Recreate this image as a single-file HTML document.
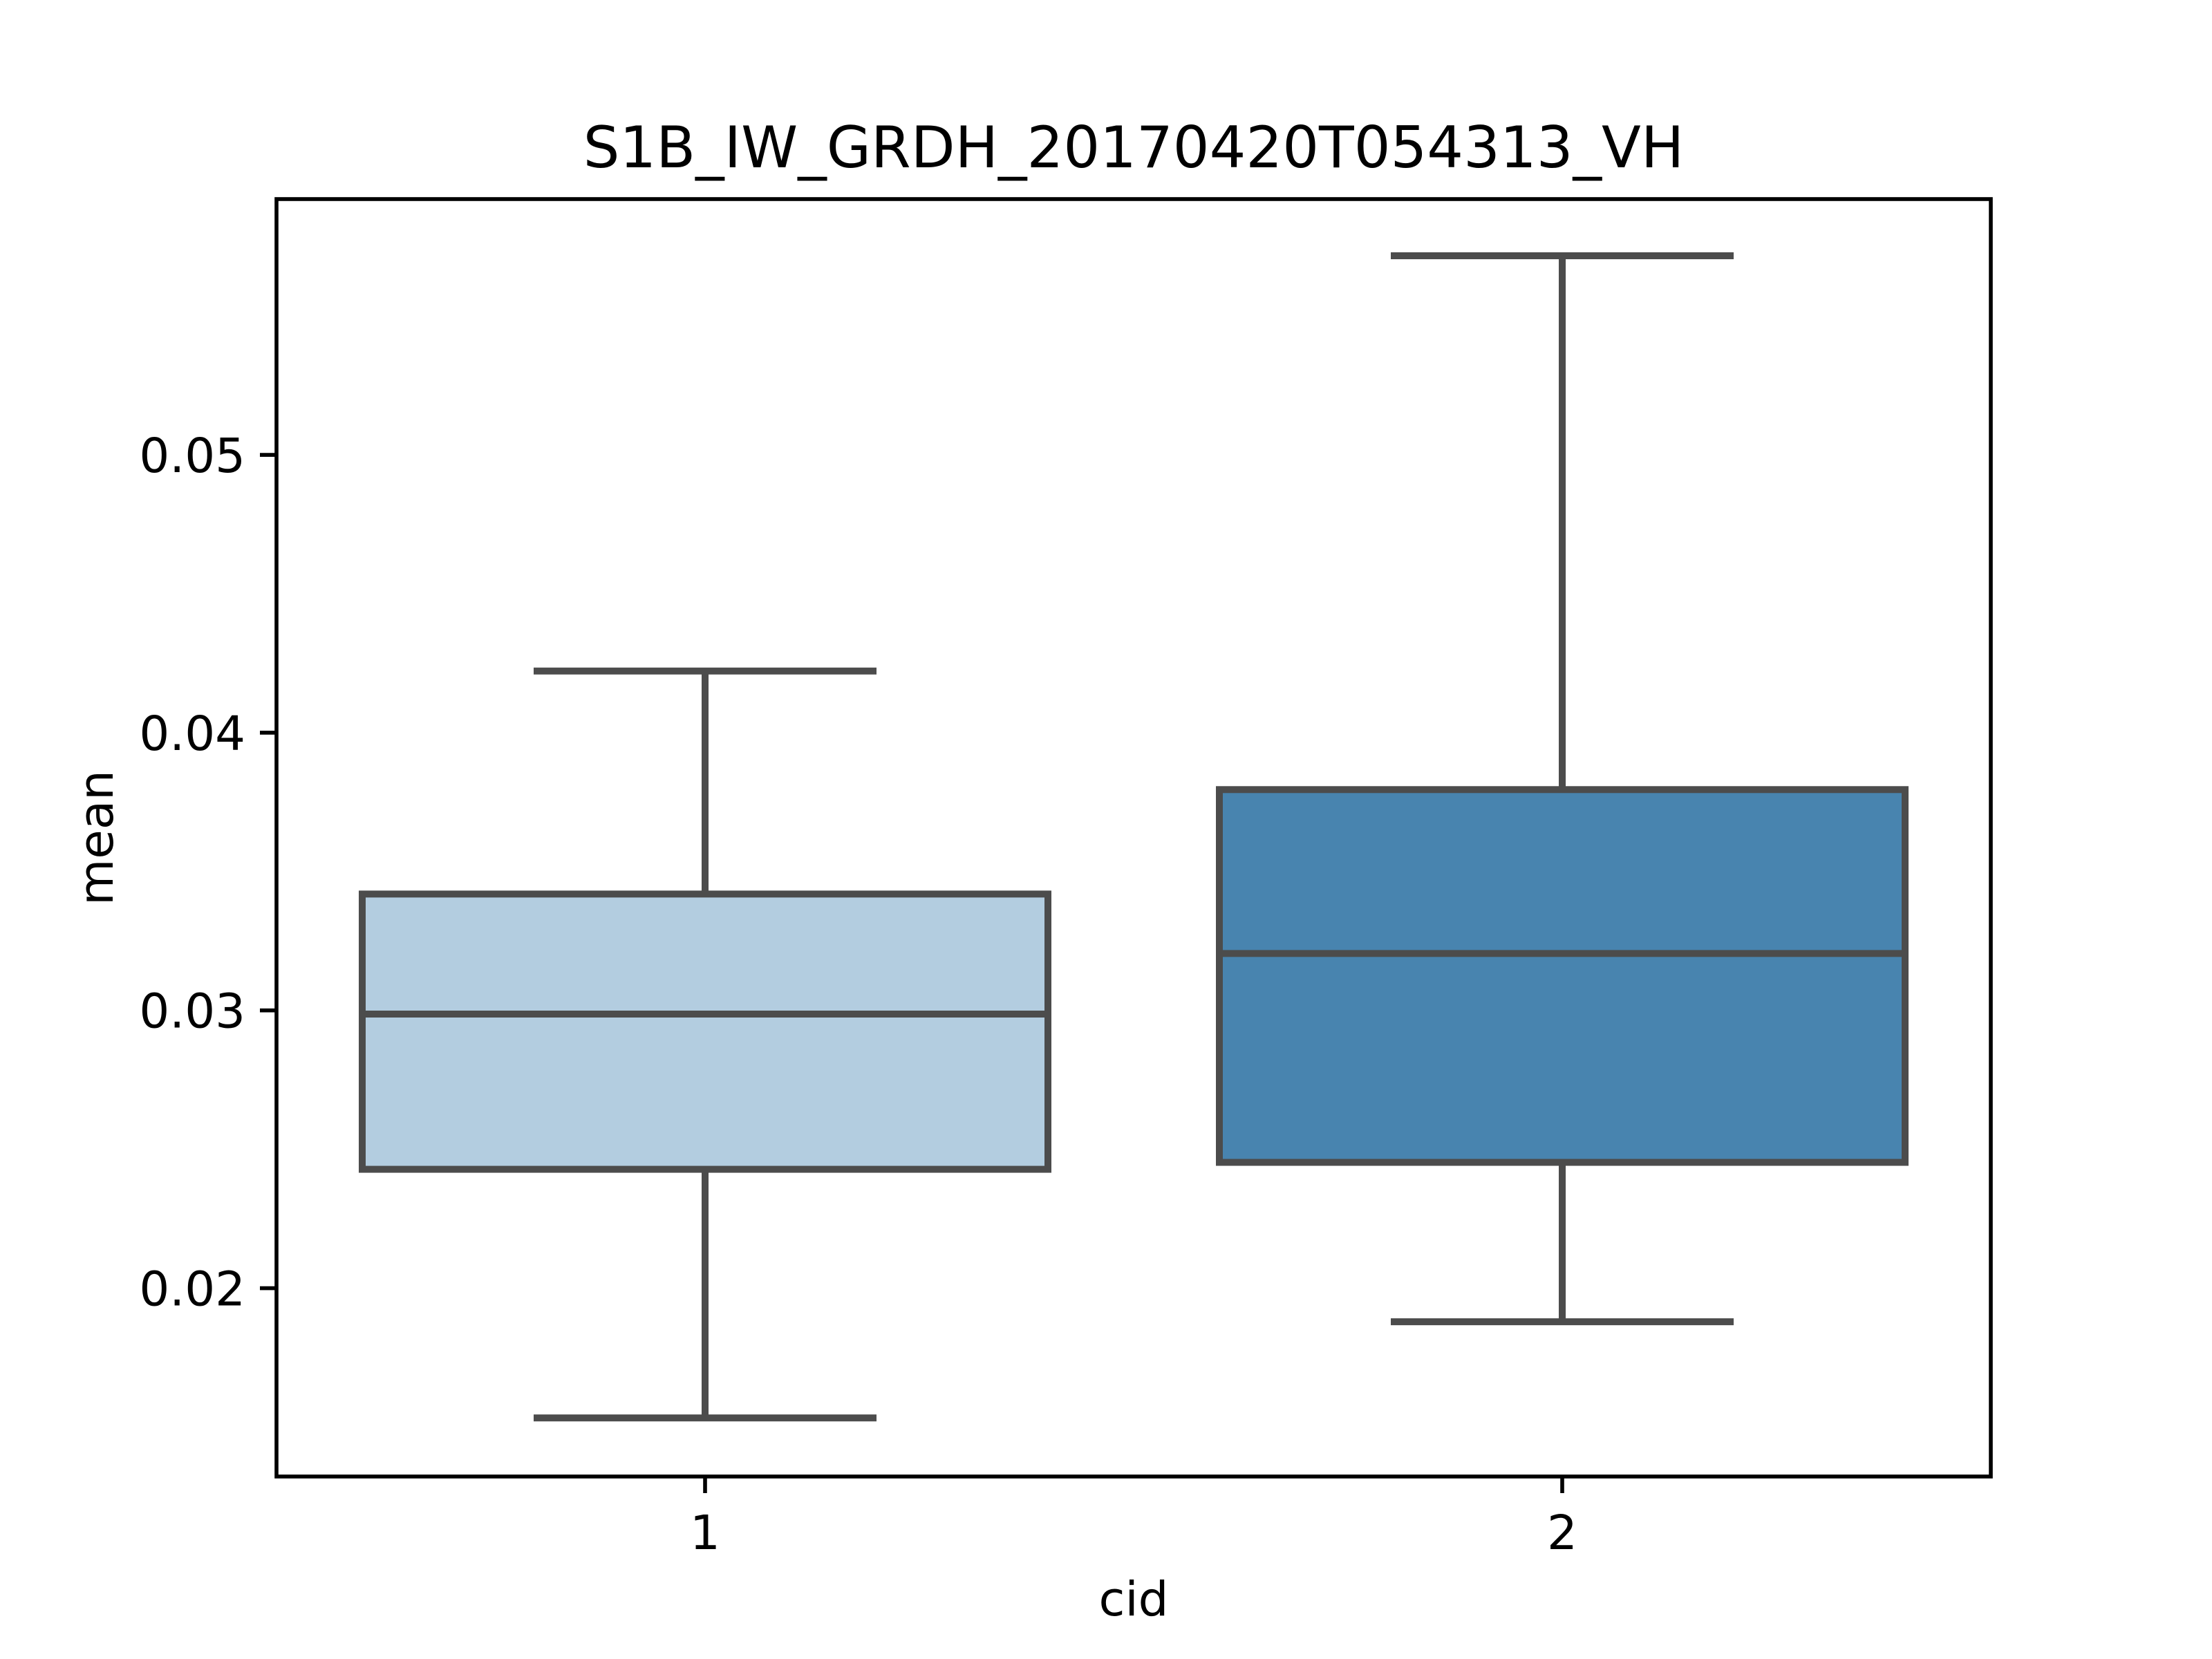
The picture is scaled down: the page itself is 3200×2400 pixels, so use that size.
<!DOCTYPE html>
<html><head><meta charset="utf-8"><style>
html,body{margin:0;padding:0;background:#fff;}
svg{display:block;}
text{font-family:"DejaVu Sans","Liberation Sans",sans-serif;fill:#000;}
</style></head><body>
<svg id="chart" width="3200" height="2400" viewBox="0 0 3200 2400" xmlns="http://www.w3.org/2000/svg">
<rect width="3200" height="2400" fill="#fff"/>
<text x="1640" y="242" font-size="83" text-anchor="middle">S1B_IW_GRDH_20170420T054313_VH</text>
<g id="marks"></g>
<rect x="400" y="288" width="2480" height="1848" fill="none" stroke="#000" stroke-width="5.6"/>
<g id="axes"></g>
<text x="1640" y="2337" font-size="69" text-anchor="middle">cid</text>
<text x="163" y="1212" font-size="69" text-anchor="middle" transform="rotate(-90 163 1212)">mean</text>
</svg>
<script>
const categories = ["1", "2"];
const whiskerLow = [0.01533, 0.01879];
const q1 = [0.02428, 0.02453];
const median = [0.02987, 0.03205];
const q3 = [0.03419, 0.03795];
const whiskerHigh = [0.04222, 0.05717];
const boxColors = ["#b3cde0", "#4884af"];
const yTicks = [0.02, 0.03, 0.04, 0.05];
const yTickLabels = ["0.02", "0.03", "0.04", "0.05"];

const L = 400, R = 2880, T = 288, B = 2136;
const yMin = 0.01322, yMax = 0.05921;
const xMin = -0.5, xMax = categories.length - 0.5;
const y = v => B - (v - yMin) / (yMax - yMin) * (B - T);
const x = i => L + (i - xMin) / (xMax - xMin) * (R - L);
const NS = "http://www.w3.org/2000/svg";
function mk(tag, attrs, parent) {
  const e = document.createElementNS(NS, tag);
  for (const k in attrs) e.setAttribute(k, attrs[k]);
  parent.appendChild(e);
  return e;
}
const marks = document.getElementById('marks');
const axes = document.getElementById('axes');
const line = "#4c4c4c", lw = 10;
categories.forEach((c, i) => {
  const cx = x(i), hw = (x(0.4) - x(0)), cw = hw / 2;
  const g = mk('g', {}, marks);
  
  
  const wl = mk('line', {x1: cx, x2: cx, y1: y(whiskerLow[i]), y2: y(q1[i]), stroke: line, 'stroke-width': lw}, g);
  
  
  const wh = mk('line', {x1: cx, x2: cx, y1: y(q3[i]), y2: y(whiskerHigh[i]), stroke: line, 'stroke-width': lw}, g);
  
  
  const cl = mk('line', {x1: cx - cw, x2: cx + cw, y1: y(whiskerLow[i]), y2: y(whiskerLow[i]), stroke: line, 'stroke-width': lw}, g);
  
  
  const ch = mk('line', {x1: cx - cw, x2: cx + cw, y1: y(whiskerHigh[i]), y2: y(whiskerHigh[i]), stroke: line, 'stroke-width': lw}, g);
  
  
  const bx = mk('rect', {x: cx - hw, y: y(q3[i]), width: 2 * hw, height: y(q1[i]) - y(q3[i]), fill: boxColors[i], stroke: line, 'stroke-width': lw}, g);
  
  
  const md = mk('line', {x1: cx - hw, x2: cx + hw, y1: y(median[i]), y2: y(median[i]), stroke: line, 'stroke-width': lw}, g);
  
  
  const tk = mk('line', {x1: cx, x2: cx, y1: B, y2: B + 24, stroke: '#000', 'stroke-width': 5.6}, axes);
  
  
  const tl = mk('text', {x: cx, y: B + 105, 'font-size': 69, 'text-anchor': 'middle'}, axes);
  tl.textContent = c;
  
  
});
yTicks.forEach((v, i) => {
  const yy = y(v);
  const tk = mk('line', {x1: L - 24, x2: L, y1: yy, y2: yy, stroke: '#000', 'stroke-width': 5.6}, axes);
  
  
  const tl = mk('text', {x: L - 45, y: yy + 25, 'font-size': 69, 'text-anchor': 'end'}, axes);
  tl.textContent = yTickLabels[i];
  
  
});
</script>
</body></html>
